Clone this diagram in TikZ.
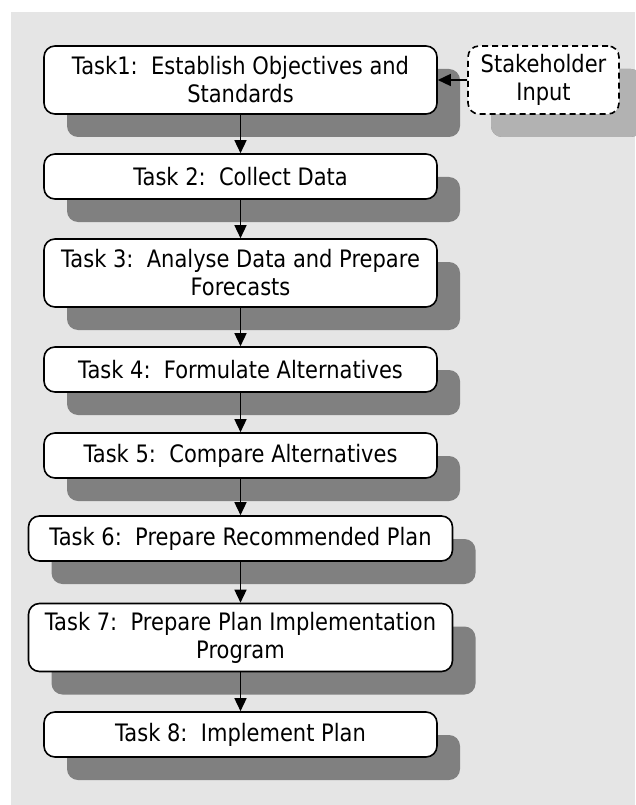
\documentclass[tikz,border=0pt]{standalone}
\usepackage{fontspec}
\setmainfont[FakeStretch=0.875]{DejaVu Sans}
\usetikzlibrary{shadows, arrows.meta}

\begin{document}
\begin{tikzpicture}[x=1pt, y=-1pt,
    task/.style={draw, line width=1.6pt, fill=white, rounded corners=11pt,
        align=center, inner sep=0pt, minimum width=393pt, minimum height=45pt,
        font=\fontsize{24}{28}\selectfont,
        drop shadow={shadow xshift=23pt, shadow yshift=-23pt, opacity=1, fill=black!50}},
    widetask/.style={task, minimum width=424pt},
    tall/.style={minimum height=68pt},
    input/.style={task, dash pattern=on 6pt off 4pt, minimum width=151pt,
        minimum height=68pt,
        drop shadow={shadow xshift=23pt, shadow yshift=-23pt, opacity=1, fill=black!30}},
    flow/.style={line width=1.5pt, -{Triangle[width=12pt, length=13pt]}}]

    \useasboundingbox (0, 0) rectangle (635, 805);
    \fill[black!10] (11, 12) rectangle (635, 805);

    % planning tasks
    \node[task, tall] (t1) at (240.5, 80) {Task1:\ \ Establish Objectives and\\Standards};
    \node[task] (t2) at (240.5, 176.5) {Task 2:\ \ Collect Data};
    \node[task, tall] (t3) at (240.5, 273) {Task 3:\ \ Analyse Data and Prepare\\Forecasts};
    \node[task] (t4) at (240.5, 369.5) {Task 4:\ \ Formulate Alternatives};
    \node[task] (t5) at (240.5, 455.5) {Task 5:\ \ Compare Alternatives};
    \node[widetask] (t6) at (240.5, 538.5) {Task 6:\ \ Prepare Recommended Plan};
    \node[widetask, tall] (t7) at (240.5, 637.5) {Task 7:\ \ Prepare Plan Implementation\\Program};
    \node[task] (t8) at (240.5, 734.5) {Task 8:\ \ Implement Plan};

    % outside input
    \node[input] (stake) at (543.5, 80) {Stakeholder\\Input};

    \draw[flow] (stake.west) -- (t1.east);
    \foreach \a/\b in {t1/t2, t2/t3, t3/t4, t4/t5, t5/t6, t6/t7, t7/t8}
        \draw[flow] (\a.south) -- (\b.north);
\end{tikzpicture}
\end{document}
